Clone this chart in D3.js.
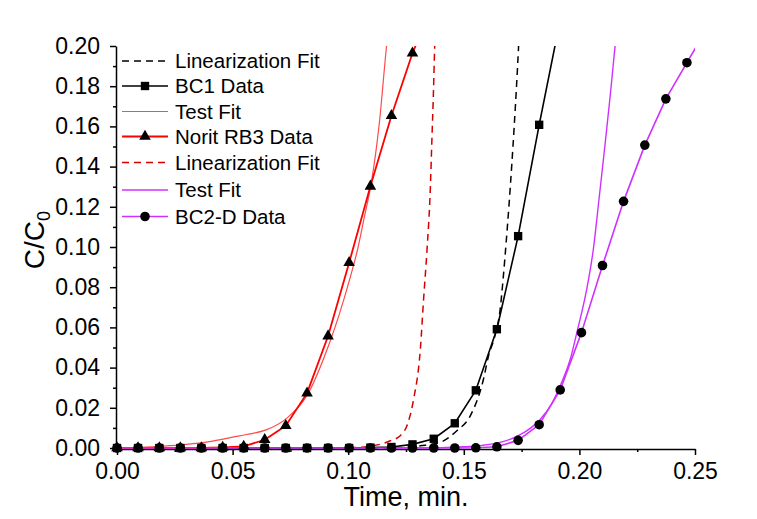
<!DOCTYPE html>
<html><head><meta charset="utf-8">
<script src="https://cdn.jsdelivr.net/npm/d3@7"></script>
<style>body{margin:0;background:#fff;} svg{display:block;font-family:"Liberation Sans",Arial,sans-serif;}</style>
</head><body><svg id="c" width="757" height="519"></svg>
<script>
// ---- data ----
const time = [0.0000,0.0091,0.0183,0.0274,0.0365,0.0457,0.0548,0.0639,0.0730,0.0822,0.0913,0.1004,0.1096,0.1187,0.1278,0.1370,0.1461,0.1552,0.1643,0.1735,0.1826,0.1917,0.2009,0.2100,0.2191,0.2283,0.2374,0.2465,0.2556];
const noritData = [0,0,0,0,0,0.0003,0.0008,0.0041,0.0111,0.0273,0.0557,0.0922,0.1302,0.1653,0.1964,0.2220];
const bc1Data = [0,0,0,0,0,0,0,0,0,0,0,0,0.0002,0.0005,0.0018,0.0046,0.0123,0.0287,0.0591,0.1054,0.1608,0.2130];
const bc2Data = [0,0,0,0,0,0,0,0,0,0,0,0,0,0,0,0,0,0.0001,0.0006,0.0038,0.0116,0.0289,0.0574,0.0908,0.1227,0.1507,0.1737,0.1917,0.2096];

const noritTestFitT = [0.000,0.010,0.020,0.030,0.040,0.0505,0.0560,0.0645,0.0736,0.0826,0.0915,0.0960,0.1009,0.1041,0.1070,0.1100,0.1135,0.1165,0.1190];
const noritTestFitC = [0.0000,0.0003,0.0009,0.0018,0.0032,0.0055,0.0067,0.0090,0.0150,0.0270,0.0510,0.0660,0.0850,0.0990,0.1150,0.1320,0.1620,0.1990,0.2250];

const noritLinFitT = [0.090,0.1000,0.1060,0.1103,0.1150,0.1182,0.1225,0.1260,0.1283,0.1312,0.1326,0.1341,0.1355,0.1362,0.1369,0.1373,0.1378];
const noritLinFitC = [0.0000,0.0001,0.0004,0.0011,0.0022,0.0036,0.0061,0.0130,0.0243,0.0491,0.0739,0.0988,0.1285,0.1534,0.1782,0.1955,0.2100];

const bc1LinFitT = [0.110,0.125,0.1312,0.1398,0.1470,0.1528,0.1585,0.1606,0.1635,0.1657,0.1670,0.1683,0.1695,0.1707,0.1718,0.1728,0.1737,0.1741];
const bc1LinFitC = [0.0000,0.0003,0.0011,0.0028,0.0086,0.0160,0.0342,0.0454,0.0560,0.0687,0.0840,0.1020,0.1200,0.1400,0.1600,0.1800,0.2000,0.2100];

const bc2TestFitT = [0.120,0.140,0.150,0.1580,0.1643,0.1700,0.1744,0.1790,0.1830,0.1880,0.1924,0.1960,0.1991,0.2030,0.2061,0.2085,0.2110,0.2133,0.2154,0.2170];
const bc2TestFitC = [0.0000,0.0002,0.0006,0.0013,0.0024,0.0043,0.0066,0.0100,0.0142,0.0220,0.0328,0.0440,0.0584,0.0780,0.0995,0.1240,0.1500,0.1750,0.1997,0.2180];

const xTicks = [0.00,0.05,0.10,0.15,0.20,0.25];
const xMinorTicks = [0.025,0.075,0.125,0.175,0.225];
const yTicks = [0.00,0.02,0.04,0.06,0.08,0.10,0.12,0.14,0.16,0.18,0.20];
const yMinorTicks = [0.01,0.03,0.05,0.07,0.09,0.11,0.13,0.15,0.17,0.19];
const legendLabels = ["Linearization Fit","BC1 Data","Test Fit","Norit RB3 Data","Linearization Fit","Test Fit","BC2-D Data"];
const xTitle = "Time, min.";

// ---- layout ----
const L=117, R=695, T=46, B=448;
const svg = d3.select("#c");
svg.append("rect").attr("width",757).attr("height",519).attr("fill","#fff");
const x = d3.scaleLinear().domain([0,0.25]).range([L,R]);
const y = d3.scaleLinear().domain([0,0.2]).range([B,T]);

const RED="#ff0000", DRED="#d40000", MAG="#d030ff", FITRED="#ff4a4a";

svg.append("clipPath").attr("id","clip").append("rect")
  .attr("x",L-6).attr("y",T).attr("width",R-L+6).attr("height",B-T+8);

// axes
const fmt = d3.format(".2f");
svg.append("g").attr("transform",`translate(0,${B+1})`)
  .call(d3.axisBottom(x).tickValues(xTicks).tickFormat(fmt).tickSize(6).tickPadding(8).tickSizeOuter(0));
svg.append("g").attr("transform",`translate(0,${B+1})`)
  .call(d3.axisBottom(x).tickValues(xMinorTicks).tickFormat("").tickSize(3).tickSizeOuter(0))
  .select(".domain").remove();
svg.append("g").attr("transform",`translate(${L-1},0)`)
  .call(d3.axisLeft(y).tickValues(yTicks).tickFormat(fmt).tickSize(6).tickPadding(10).tickSizeOuter(0));
svg.append("g").attr("transform",`translate(${L-1},0)`)
  .call(d3.axisLeft(y).tickValues(yMinorTicks).tickFormat("").tickSize(3).tickSizeOuter(0))
  .select(".domain").remove();
svg.selectAll(".domain,.tick line").attr("stroke","#000").attr("stroke-width",1.5);
svg.selectAll(".tick text").attr("font-size",23).attr("fill","#000").attr("font-family","Liberation Sans, Arial, sans-serif");

// titles
svg.append("text").attr("x",(L+R)/2).attr("y",506).attr("text-anchor","middle")
  .attr("font-size",27).text(xTitle);
const yt = svg.append("text").attr("transform","translate(44,240) rotate(-90)")
  .attr("text-anchor","middle").attr("font-size",28);
yt.append("tspan").text("C/C");
yt.append("tspan").attr("font-size",18).attr("dy",6).text("0");

// plotting
const plot = svg.append("g").attr("clip-path","url(#clip)");
const line = d3.line().x(d=>x(d[0])).y(d=>y(d[1]));
const smooth = d3.line().x(d=>x(d[0])).y(d=>y(d[1])).curve(d3.curveMonotoneX);
const zipT = (ts,cs)=>ts.map((t,i)=>[t,cs[i]]);
const zipData = cs=>cs.map((c,i)=>[time[i],c]);

function path(pts, gen, color, w, dash){
  const p = plot.append("path").attr("d",gen(pts)).attr("fill","none")
    .attr("stroke",color).attr("stroke-width",w).attr("stroke-linejoin","round");
  if(dash) p.attr("stroke-dasharray",dash);
}
const inside = d=>d[0]<=0.25 && d[1]<=0.2;
function markers(pts, type, size){
  svg.append("g").selectAll("path").data(pts.filter(inside)).join("path")
    .attr("transform",d=>`translate(${x(d[0])},${y(d[1])})`)
    .attr("d",d3.symbol().type(type).size(size)()).attr("fill","#000");
}

path(zipT(bc1LinFitT,bc1LinFitC), smooth, "#000", 1.5, "7,5");
path(zipData(bc1Data), line, "#000", 1.6);
path(zipT(noritTestFitT,noritTestFitC), smooth, FITRED, 1.2);
path(zipData(noritData), line, RED, 1.8);
path(zipT(noritLinFitT,noritLinFitC), smooth, DRED, 1.5, "7,5");
path(zipT(bc2TestFitT,bc2TestFitC), smooth, MAG, 1.4);
path(zipData(bc2Data), line, MAG, 1.6);

markers(zipData(bc1Data), d3.symbolSquare, 70);
markers(zipData(noritData), d3.symbolTriangle, 58);
markers(zipData(bc2Data), d3.symbolCircle, 72);

// legend
const legY = [61, 86, 111.5, 136.5, 162.5, 190, 216.5];
const legStyle = [
  {c:"#000", w:1.5, dash:"7,5"},
  {c:"#000", w:1.6, sym:d3.symbolSquare, s:70},
  {c:FITRED, w:1.2},
  {c:RED, w:1.8, sym:d3.symbolTriangle, s:58},
  {c:DRED, w:1.5, dash:"7,5"},
  {c:MAG, w:1.4},
  {c:MAG, w:1.6, sym:d3.symbolCircle, s:72}
];
const lg = svg.append("g");
legendLabels.forEach((lab,i)=>{
  const st = legStyle[i], yy = legY[i];
  const ln = lg.append("line").attr("x1",122).attr("x2",168).attr("y1",yy).attr("y2",yy)
    .attr("stroke",st.c).attr("stroke-width",st.w);
  if(st.dash) ln.attr("stroke-dasharray",st.dash);
  if(st.sym) lg.append("path").attr("transform",`translate(145,${yy})`)
    .attr("d",d3.symbol().type(st.sym).size(st.s)()).attr("fill","#000");
  lg.append("text").attr("x",175).attr("y",yy).attr("dy","0.35em")
    .attr("font-size",20.5).attr("fill","#000").text(lab);
});
</script></body></html>
